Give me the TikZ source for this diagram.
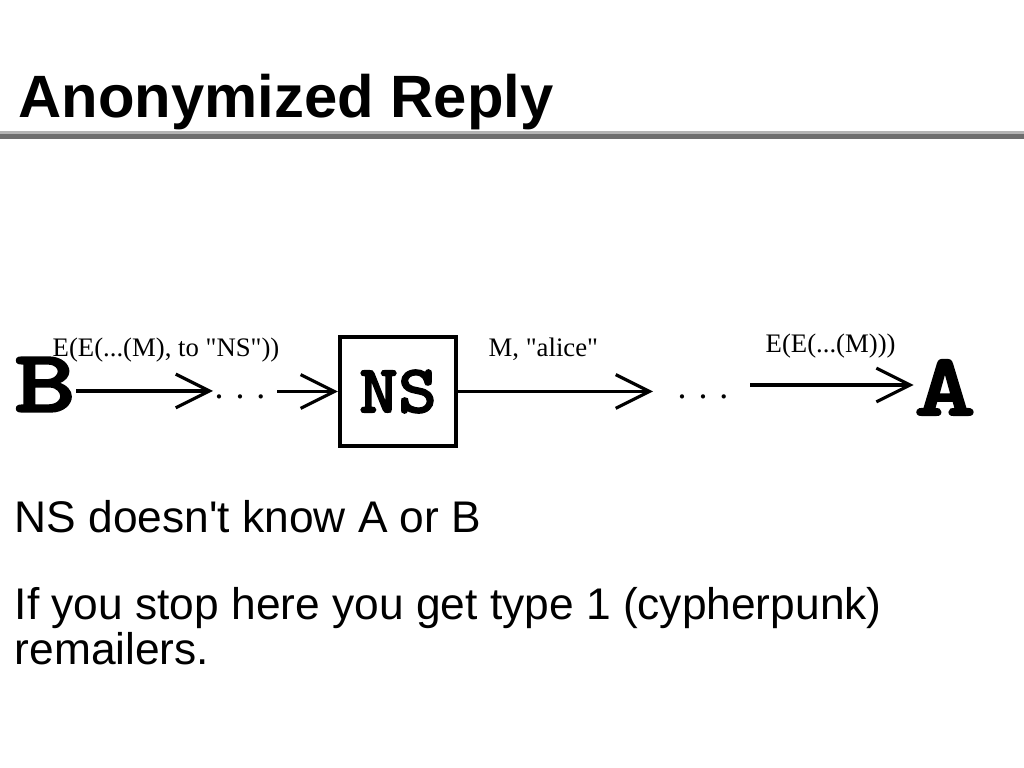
\documentclass[tikz,border=0pt]{standalone}
\usepackage{fontspec}
\usepackage{graphicx}
\usepackage{tikz}
\usetikzlibrary{calc,positioning,arrows.meta}
\newfontfamily\slidefont{Liberation Sans}
\newfontfamily\labelfont{Liberation Serif}
\newfontfamily\partyfont[FakeBold=1.8]{lmmonolt10-bold.otf}
\definecolor{rulelight}{HTML}{B4B4B4}
\definecolor{ruledark}{HTML}{6E6E6E}

\begin{document}
\begin{tikzpicture}[x=0.01cm, y=-0.01cm, every node/.style={inner sep=0pt},
  msg/.style={line width=0.9pt, -{Straight Barb[length=9.6pt, width=9.6pt]}},
  party/.style={font=\fontsize{25.5}{27}\selectfont\partyfont},
  tag/.style={font=\fontsize{7.6}{9}\selectfont\labelfont, anchor=base west},
  gap/.style={font=\fontsize{10.2}{12}\selectfont\labelfont, anchor=base},
  body/.style={font=\fontsize{12.6}{14}\selectfont\slidefont, anchor=base west}]
  \useasboundingbox (0,0) rectangle (1024,768);

  % Title
  \node[font=\fontsize{17}{20}\selectfont\slidefont\bfseries, anchor=base west] (title) at (18,118) {Anonymized Reply};
  \fill[rulelight] (0,131) rectangle (1024,134.5);
  \fill[ruledark] (0,134.5) rectangle (1024,139);

  % Parties
  \node[party] (B) at (45,384.5) {\scalebox{1.3}[1]{B}};
  \node[party, draw, line width=1.14pt, minimum width=1.16cm, minimum height=1.09cm] (NS) at (398,391.5) {\fontsize{19.5}{21}\selectfont\scalebox{1.08}[1]{NS}};
  \node[party] (A) at (945,387.5) {\scalebox{1.3}[1]{A}};

  % Hops
  \node[gap] (dots1) at (240,399) {. . .};
  \node[gap] (dots2) at (703,399) {. . .};
  \coordinate (t1) at (213,391);
  \coordinate (s2) at (277,391.5);
  \coordinate (t3) at (653,391.5);
  \coordinate (s4) at (750,385);

  % Messages
  \draw[msg] (B.east |- t1) -- (t1);
  \draw[msg] (s2) -- (NS.west);
  \draw[msg] (NS.east) -- (t3);
  \draw[msg] (s4) -- (s4 -| A.west);

  % Labels
  \node[tag] (m1) at (52,357) {E(E(...(M), to "NS"))};
  \node[tag] (m2) at (488,357) {M, "alice"};
  \node[tag] (m3) at (765,353) {E(E(...(M)))};

  % Text
  \node[body] (l1) at (14,533) {NS doesn't know A or B};
  \node[body] (l2) at (14,620) {If you stop here you get type 1 (cypherpunk)};
  \node[body] (l3) at (14,665) {remailers.};
\end{tikzpicture}
\end{document}
